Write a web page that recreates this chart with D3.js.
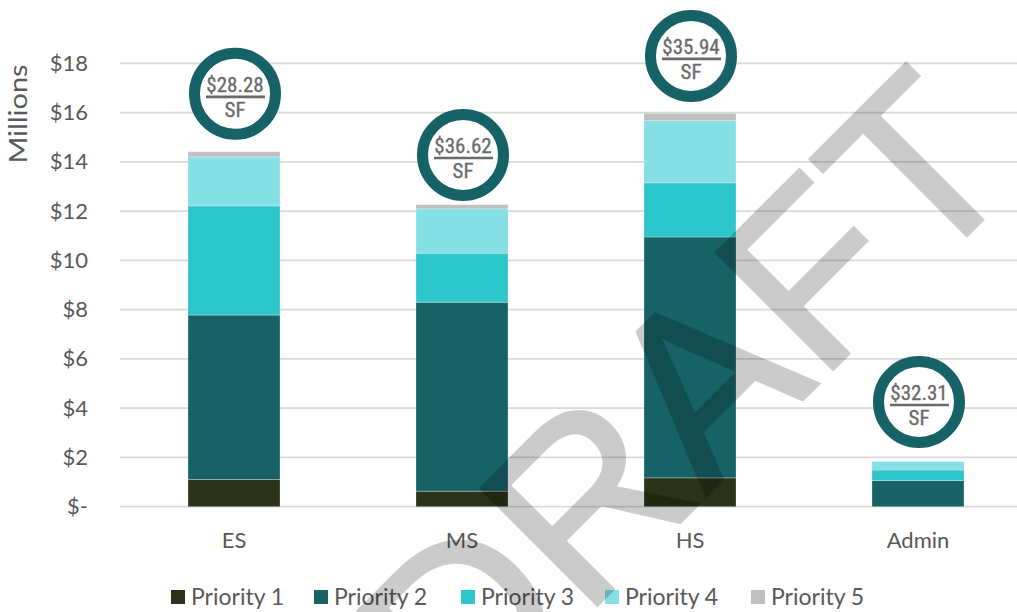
<!DOCTYPE html>
<html>
<head>
<meta charset="utf-8">
<script src="https://cdn.jsdelivr.net/npm/d3@7/dist/d3.min.js"></script>
<style>
  html, body { margin: 0; padding: 0; background: #fff; }
  svg { display: block; }
</style>
</head>
<body>
<svg id="chart" width="1017" height="612"></svg>
<script>
// Capital cost by school level, stacked by priority (millions of dollars)
const categories = ["ES", "MS", "HS", "Admin"];
const priority1 = [1.11, 0.63, 1.17, 0.00];
const priority2 = [6.67, 7.67, 9.78, 1.06];
const priority3 = [4.43, 1.99, 2.20, 0.43];
const priority4 = [1.99, 1.80, 2.52, 0.35];
const priority5 = [0.21, 0.17, 0.30, 0.00];
const seriesNames = ["Priority 1", "Priority 2", "Priority 3", "Priority 4", "Priority 5"];
const seriesColors = ["#2a3317", "#176266", "#2ec6cd", "#84e0e4", "#bfbfbf"];

// Cost per square foot badges and where their centres sit (in millions on the value axis)
const costPerSF = [28.28, 36.62, 35.94, 32.31];
const badgeCenter = [16.76, 14.28, 18.30, 4.25];

const yTicks = [0, 2, 4, 6, 8, 10, 12, 14, 16, 18];
const yTickLabels = ["$-", "$2", "$4", "$6", "$8", "$10", "$12", "$14", "$16", "$18"];

const svg = d3.select("#chart");
const W = 1017, H = 612;
const plotLeft = 120, plotRight = 1032, plotTop = 63.3, plotBottom = 506.7;

const rows = categories.map((c, i) => ({
  cat: c,
  "Priority 1": priority1[i],
  "Priority 2": priority2[i],
  "Priority 3": priority3[i],
  "Priority 4": priority4[i],
  "Priority 5": priority5[i]
}));

const x = d3.scaleBand()
  .domain(categories)
  .range([plotLeft, plotRight])
  .paddingInner(0.5965)
  .paddingOuter(0.5965 / 2);

const y = d3.scaleLinear().domain([0, 18]).range([plotBottom, plotTop]);

const color = d3.scaleOrdinal().domain(seriesNames).range(seriesColors);

const stacked = d3.stack().keys(seriesNames)(rows);

const textFont = "Lato, 'Open Sans', sans-serif";
const labelColor = "#595959";

// gridlines
svg.append("g")
  .selectAll("line")
  .data(yTicks)
  .join("line")
  .attr("x1", plotLeft)
  .attr("x2", W)
  .attr("y1", d => y(d))
  .attr("y2", d => y(d))
  .attr("stroke", "#d9d9d9")
  .attr("stroke-width", 1.8);

// value axis labels
const yAxis = d3.axisLeft(y)
  .tickValues(yTicks)
  .tickFormat((d, i) => yTickLabels[i])
  .tickSize(0)
  .tickPadding(0);
const yAxisG = svg.append("g")
  .attr("transform", `translate(88,0)`)
  .call(yAxis);
yAxisG.select(".domain").remove();
yAxisG.selectAll("text")
  .attr("font-family", textFont)
  .attr("font-size", 22)
  .attr("fill", labelColor);

// axis title
svg.append("text")
  .attr("transform", `translate(27,114) rotate(-90)`)
  .attr("text-anchor", "middle")
  .attr("font-family", textFont)
  .attr("font-size", 25)
  .attr("textLength", 99)
  .attr("lengthAdjust", "spacingAndGlyphs")
  .attr("fill", labelColor)
  .text("Millions");

// stacked bars
svg.append("g")
  .selectAll("g")
  .data(stacked)
  .join("g")
  .attr("fill", d => color(d.key))
  .selectAll("rect")
  .data(d => d)
  .join("rect")
  .attr("x", d => x(d.data.cat))
  .attr("width", x.bandwidth())
  .attr("y", d => y(d[1]))
  .attr("height", d => Math.max(0, y(d[0]) - y(d[1])))
  .attr("stroke", "#ffffff")
  .attr("stroke-opacity", 0.35)
  .attr("stroke-width", 0.8);

// category axis
const xAxis = d3.axisBottom(x).tickSize(0).tickPadding(0);
const xAxisG = svg.append("g")
  .attr("transform", `translate(0,${plotBottom})`)
  .call(xAxis);
xAxisG.select(".domain").remove();
xAxisG.selectAll("text")
  .attr("dy", null)
  .attr("y", 41)
  .attr("font-family", textFont)
  .attr("font-size", 22)
  .attr("fill", labelColor);

// cost per SF badges
const badgeFont = "'Liberation Sans Narrow', 'Roboto Condensed', 'Arial Narrow', sans-serif";
const badgeInk = "#6a6a6a";
const badge = svg.append("g")
  .selectAll("g")
  .data(categories)
  .join("g")
  .attr("transform", (c, i) => `translate(${x(c) + x.bandwidth() / 2 + 1},${y(badgeCenter[i])})`);

badge.append("circle")
  .attr("r", 40.5)
  .attr("fill", "#ffffff")
  .attr("stroke", "#176266")
  .attr("stroke-width", 11);

badge.append("text")
  .attr("text-anchor", "middle")
  .attr("y", -2)
  .attr("font-family", badgeFont)
  .attr("font-size", 21)
  .attr("fill", badgeInk)
  .attr("stroke", badgeInk)
  .attr("stroke-width", 0.3)
  .text((c, i) => "$" + costPerSF[i].toFixed(2));

badge.append("line")
  .attr("x1", -29)
  .attr("x2", 30)
  .attr("y1", 3)
  .attr("y2", 3)
  .attr("stroke", badgeInk)
  .attr("stroke-width", 2.6);

badge.append("text")
  .attr("text-anchor", "middle")
  .attr("y", 23)
  .attr("font-family", badgeFont)
  .attr("font-size", 21)
  .attr("fill", badgeInk)
  .attr("stroke", badgeInk)
  .attr("stroke-width", 0.3)
  .text("SF");

// legend
const legendX = [171, 314, 461, 605, 751];
const legend = svg.append("g")
  .selectAll("g")
  .data(seriesNames)
  .join("g")
  .attr("transform", (d, i) => `translate(${legendX[i]},590)`);
legend.append("rect")
  .attr("width", 14)
  .attr("height", 14)
  .attr("fill", d => color(d));
legend.append("text")
  .attr("x", 20)
  .attr("y", 7)
  .attr("dy", "0.36em")
  .attr("font-family", textFont)
  .attr("font-size", 23)
  .attr("fill", labelColor)
  .text(d => d);

// DRAFT watermark across the plot
const fs = 240;
const mark = svg.append("g")
  .attr("opacity", 0.2)
  .attr("transform", "translate(683,398) rotate(-45)");
mark.append("text")
  .attr("text-anchor", "middle")
  .attr("y", fs * 0.358)
  .attr("font-family", "'Liberation Sans', Arial, sans-serif")
  .attr("font-size", fs)
  .attr("fill", "#000")
  .attr("stroke", "#000")
  .attr("stroke-width", 3)
  .attr("stroke-linejoin", "miter")
  .text("DRAFT");
</script>
</body>
</html>
